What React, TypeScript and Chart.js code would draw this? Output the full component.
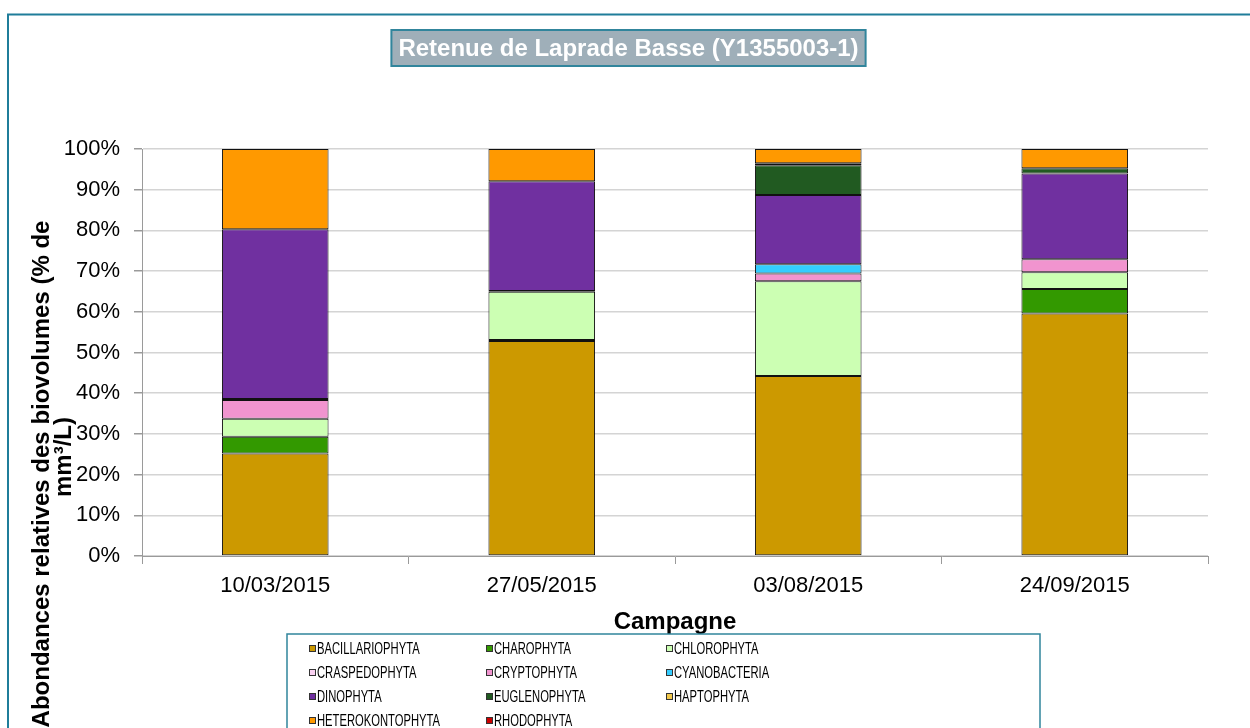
import React, { useEffect, useRef } from "react";
import { Chart, registerables } from "chart.js";

Chart.register(...registerables);

const TITLE = "Retenue de Laprade Basse (Y1355003-1)";
const Y_TITLE_1 = "Abondances relatives des biovolumes (% de";
const Y_TITLE_2 = "mm³/L)";
const X_TITLE = "Campagne";

const categories = ["10/03/2015", "27/05/2015", "03/08/2015", "24/09/2015"];

const seriesNames = [
  "BACILLARIOPHYTA",
  "CHAROPHYTA",
  "CHLOROPHYTA",
  "CRASPEDOPHYTA",
  "CRYPTOPHYTA",
  "CYANOBACTERIA",
  "DINOPHYTA",
  "EUGLENOPHYTA",
  "HAPTOPHYTA",
  "HETEROKONTOPHYTA",
  "RHODOPHYTA",
];

const bacillariophyta = [25.2, 52.8, 44.2, 59.6];
const charophyta = [4.1, 0.3, 0, 6.0];
const chlorophyta = [4.4, 11.8, 23.3, 4.1];
const craspedophyta = [0, 0, 0, 0];
const cryptophyta = [4.6, 0.2, 1.9, 3.2];
const cyanobacteria = [0.3, 0, 2.3, 0];
const dinophyta = [41.7, 27.0, 17.0, 21.1];
const euglenophyta = [0, 0, 7.3, 1.3];
const haptophyta = [0, 0, 0.5, 0];
const heterokontophyta = [19.7, 7.9, 3.5, 4.7];
const rhodophyta = [0, 0, 0, 0];

const seriesValues = [
  bacillariophyta,
  charophyta,
  chlorophyta,
  craspedophyta,
  cryptophyta,
  cyanobacteria,
  dinophyta,
  euglenophyta,
  haptophyta,
  heterokontophyta,
  rhodophyta,
];

const seriesColors = [
  "#CC9900",
  "#339900",
  "#CCFFB3",
  "#FAD2F2",
  "#F194CF",
  "#33CCFF",
  "#7030A0",
  "#215A21",
  "#F2C84B",
  "#FF9900",
  "#CC0000",
];

const yTickValues = [0, 10, 20, 30, 40, 50, 60, 70, 80, 90, 100];

const decorPlugin = {
  id: "decor",
  beforeDraw(chart: any) {
    const ctx = chart.ctx;
    ctx.save();
    ctx.fillStyle = "#ffffff";
    ctx.fillRect(0, 0, chart.width, chart.height);
    ctx.strokeStyle = "#1F7D9A";
    ctx.lineWidth = 2;
    ctx.strokeRect(8, 14.5, chart.width + 20, chart.height + 20);
    ctx.restore();
  },
  afterDraw(chart: any) {
    const ctx = chart.ctx;
    const area = chart.chartArea;
    ctx.save();

    // Title box
    ctx.font = "bold 24px 'Liberation Sans', Arial, sans-serif";
    const tw = ctx.measureText(TITLE).width;
    const cx = 628.5;
    const bx = cx - tw / 2 - 7;
    const bw = tw + 14;
    ctx.fillStyle = "#9FAFB9";
    ctx.fillRect(bx, 30, bw, 36);
    ctx.strokeStyle = "#31859C";
    ctx.lineWidth = 2;
    ctx.strokeRect(bx, 30, bw, 36);
    ctx.fillStyle = "#ffffff";
    ctx.textAlign = "center";
    ctx.textBaseline = "middle";
    ctx.fillText(TITLE, cx, 49);

    // Y title
    ctx.fillStyle = "#000000";
    ctx.font = "bold 24px 'Liberation Sans', Arial, sans-serif";
    ctx.save();
    ctx.translate(42, 474);
    ctx.rotate(-Math.PI / 2);
    ctx.fillText(Y_TITLE_1, 0, 0);
    ctx.restore();
    ctx.save();
    ctx.translate(64, 457);
    ctx.rotate(-Math.PI / 2);
    ctx.fillText(Y_TITLE_2, 0, 0);
    ctx.restore();

    // X title
    ctx.font = "bold 24px 'Liberation Sans', Arial, sans-serif";
    ctx.fillText(X_TITLE, (area.left + area.right) / 2, 622);

    // Legend
    const lx = 287;
    const ly = 634;
    ctx.strokeStyle = "#31859C";
    ctx.lineWidth = 1.5;
    ctx.strokeRect(lx, ly, 753, 120);
    const colX = [309, 486, 666];
    const rowY = [649, 673, 697, 721];
    ctx.font = "17px 'Liberation Sans', Arial, sans-serif";
    ctx.textAlign = "left";
    ctx.textBaseline = "middle";
    chart.data.datasets.forEach((ds: any, i: number) => {
      const col = i % 3;
      const row = Math.floor(i / 3);
      const x = colX[col];
      const y = rowY[row];
      ctx.fillStyle = ds.backgroundColor;
      ctx.fillRect(x, y - 4, 7, 7);
      ctx.strokeStyle = "#333333";
      ctx.lineWidth = 1;
      ctx.strokeRect(x + 0.5, y - 3.5, 6, 6);
      ctx.fillStyle = "#000000";
      ctx.save();
      ctx.translate(x + 8, y);
      ctx.scale(0.66, 1);
      ctx.fillText(ds.label, 0, 0);
      ctx.restore();
    });

    ctx.restore();
  },
};

export default function App() {
  const ref = useRef<HTMLCanvasElement | null>(null);

  useEffect(() => {
    if (!ref.current) return;
    const chart = new Chart(ref.current, {
      type: "bar",
      data: {
        labels: categories,
        datasets: seriesNames.map((name, i) => ({
          label: name,
          data: seriesValues[i],
          backgroundColor: seriesColors[i],
          borderColor: "#111111",
          borderWidth: 1,
          borderSkipped: false,
          categoryPercentage: 1,
          barPercentage: 0.4,
        })),
      },
      options: {
        animation: false,
        responsive: false,
        maintainAspectRatio: false,
        layout: { padding: { left: 0, right: 42, top: 149, bottom: 122 } },
        plugins: {
          legend: { display: false },
          title: { display: false },
          tooltip: { enabled: false },
        },
        scales: {
          x: {
            stacked: true,
            offset: true,
            afterFit: (s: any) => {
              s.height = 50;
            },
            grid: {
              offset: true,
              drawOnChartArea: false,
              drawTicks: true,
              tickLength: 8,
              tickColor: "#9a9a9a",
              color: "#9a9a9a",
            },
            border: { color: "#9a9a9a", width: 1 },
            ticks: {
              color: "#000000",
              padding: 9,
              maxRotation: 0,
              font: { family: "'Liberation Sans', Arial, sans-serif", size: 22 },
            },
          },
          y: {
            stacked: true,
            min: 0,
            max: 100,
            afterFit: (s: any) => {
              s.width = 142;
            },
            afterBuildTicks: (s: any) => {
              s.ticks = yTickValues.map((v) => ({ value: v }));
            },
            grid: {
              color: "#d4d4d4",
              lineWidth: 1.5,
              tickLength: 8,
              tickColor: "#9a9a9a",
            },
            border: { color: "#9a9a9a", width: 1 },
            ticks: {
              color: "#000000",
              padding: 14,
              callback: (v: any) => `${v}%`,
              font: { family: "'Liberation Sans', Arial, sans-serif", size: 22 },
            },
          },
        },
      },
      plugins: [decorPlugin],
    });
    return () => chart.destroy();
  }, []);

  return (
    <div style={{ position: "fixed", left: 0, top: 0, width: 1250, height: 728, overflow: "hidden", background: "#fff" }}>
      <canvas ref={ref} width={1250} height={728} style={{ display: "block", width: 1250, height: 728 }} />
    </div>
  );
}
